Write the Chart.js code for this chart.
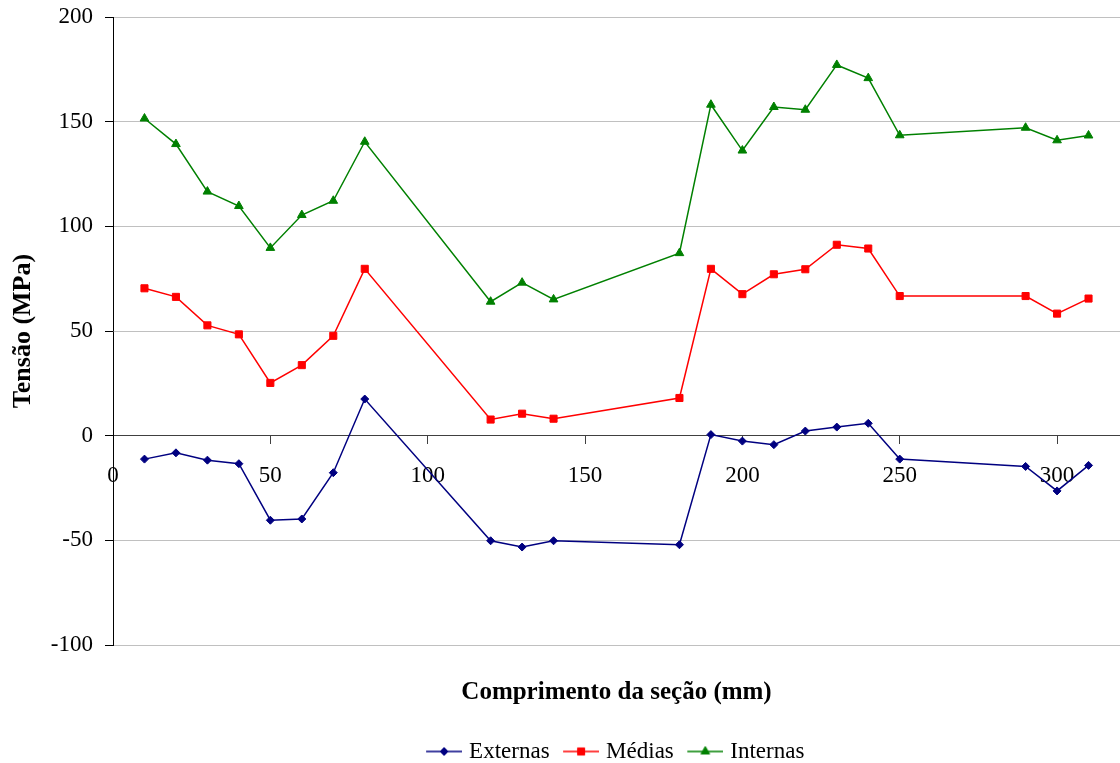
<!DOCTYPE html>
<html>
<head>
<meta charset="utf-8">
<script src="https://cdn.jsdelivr.net/npm/chart.js@4"></script>
<style>
  html, body { margin: 0; padding: 0; background: #fff; }
  #wrap { width: 1120px; height: 763px; }
</style>
</head>
<body>
<div id="wrap"><canvas id="chart"></canvas></div>
<script>
// section positions (mm) and measured stress (MPa)
const positions = [10, 20, 30, 40, 50, 60, 70, 80, 120, 130, 140, 180, 190, 200, 210, 220, 230, 240, 250, 290, 300, 310];
const externas = [-11.2, -8.2, -11.7, -13.4, -40.4, -39.8, -17.7, 17.5, -50.2, -53.2, -50.2, -52.1, 0.5, -2.6, -4.3, 2.2, 4.1, 5.9, -11.2, -14.7, -26.4, -14.2];
const medias = [70.4, 66.3, 52.7, 48.4, 25.2, 33.7, 47.7, 79.7, 7.7, 10.5, 8.1, 18.0, 79.7, 67.6, 77.1, 79.5, 91.2, 89.4, 66.7, 66.7, 58.3, 65.5];
const internas = [151.5, 139.3, 116.6, 109.7, 89.7, 105.4, 112.2, 140.4, 64.0, 73.1, 65.1, 87.2, 158.1, 136.2, 157.0, 155.7, 177.1, 170.8, 143.5, 147.1, 141.1, 143.4];

const seriesNames = ['Externas', 'Médias', 'Internas'];
const xTitle = 'Comprimento da seção (mm)';
const yTitle = 'Tensão (MPa)';

const FONT = '"Liberation Serif", "Times New Roman", serif';

const styles = [
    { color: '#000080', pointStyle: 'rectRot', radius: 4 },
    { color: '#ff0000', pointStyle: 'rect', radius: 5 },
    { color: '#008000', pointStyle: 'triangle', radius: 5 }
];

function toPoints(values) {
    return positions.map(function(x, i) { return { x: x, y: values[i] }; });
}

// small line-with-marker swatch used as the legend symbol
function legendIcon(st) {
    const c = document.createElement('canvas');
    c.width = 50;
    c.height = 14;
    const ctx = c.getContext('2d');
    ctx.strokeStyle = st.color;
    ctx.fillStyle = st.color;
    ctx.lineWidth = 1.5;
    ctx.beginPath();
    ctx.moveTo(14, 7);
    ctx.lineTo(50, 7);
    ctx.stroke();
    ctx.lineWidth = 1;
    Chart.helpers.drawPoint(ctx, { pointStyle: st.pointStyle, radius: st.radius, rotation: 0, borderWidth: 1 }, 32, 7);
    return c;
}

const icons = styles.map(legendIcon);

// keep the bottom title and legend centred under the plot area
const centreOnPlot = {
    id: 'centreOnPlot',
    afterLayout(chart) {
        const area = chart.chartArea;
        [[chart.legend, -6], [chart.titleBlock, 0]].forEach(function(pair) {
            const box = pair[0];
            if (!box) return;
            const off = (area.left + area.right) / 2 - (box.left + box.right) / 2 + pair[1];
            box.left += off;
            box.right += off;
        });
    }
};

const datasets = [externas, medias, internas].map(function(values, i) {
    const st = styles[i];
    return {
        label: seriesNames[i],
        data: toPoints(values),
        borderColor: st.color,
        backgroundColor: st.color,
        borderWidth: 1.5,
        pointStyle: st.pointStyle,
        pointRadius: st.radius,
        pointHoverRadius: st.radius,
        pointBackgroundColor: st.color,
        pointBorderColor: st.color,
        pointBorderWidth: 1,
        tension: 0
    };
});

new Chart(document.getElementById('chart'), {
    type: 'line',
    data: { datasets: datasets },
    plugins: [centreOnPlot],
    options: {
        responsive: true,
        maintainAspectRatio: false,
        animation: false,
        layout: { autoPadding: false, padding: { top: 0, right: 0, bottom: -10, left: 0 } },
        scales: {
            x: {
                type: 'linear',
                position: { y: 0 },
                min: 0,
                max: 320,
                afterFit: function(scale) { scale.paddingLeft = 0; scale.paddingRight = 0; },
                ticks: {
                    stepSize: 50,
                    includeBounds: false,
                    color: '#000',
                    font: { family: FONT, size: 23 },
                    padding: 18,
                    maxRotation: 0
                },
                grid: { drawOnChartArea: false, drawTicks: true, tickLength: 8, tickColor: '#404040' },
                border: { color: '#404040', width: 1 }
            },
            y: {
                min: -100,
                max: 200,
                afterFit: function(scale) {
                    scale.width = 113;
                    scale.paddingTop = 17;
                },
                ticks: {
                    stepSize: 50,
                    color: '#000',
                    font: { family: FONT, size: 23 },
                    padding: 12
                },
                grid: {
                    color: function(ctx) { return ctx.tick && ctx.tick.value === 0 ? '#404040' : '#c0c0c0'; },
                    tickColor: '#000',
                    tickLength: 8
                },
                border: { color: '#000', width: 1 },
                title: {
                    display: true,
                    text: yTitle,
                    color: '#000',
                    font: { family: FONT, size: 26, weight: 'bold' },
                    padding: { top: 8, bottom: 4 }
                }
            }
        },
        plugins: {
            title: {
                display: true,
                position: 'bottom',
                text: xTitle,
                color: '#000',
                font: { family: FONT, size: 25, weight: 'bold' },
                padding: { top: 33, bottom: 28 },
                weight: 500
            },
            legend: {
                position: 'bottom',
                weight: 1000,
                labels: {
                    usePointStyle: true,
                    pointStyleWidth: 41,
                    padding: 4,
                    color: '#000',
                    font: { family: FONT, size: 23 },
                    generateLabels: function(chart) {
                        const items = Chart.defaults.plugins.legend.labels.generateLabels(chart);
                        items.forEach(function(it, i) { it.pointStyle = icons[i]; });
                        return items;
                    }
                }
            },
            tooltip: { enabled: false }
        }
    }
});
</script>
</body>
</html>
